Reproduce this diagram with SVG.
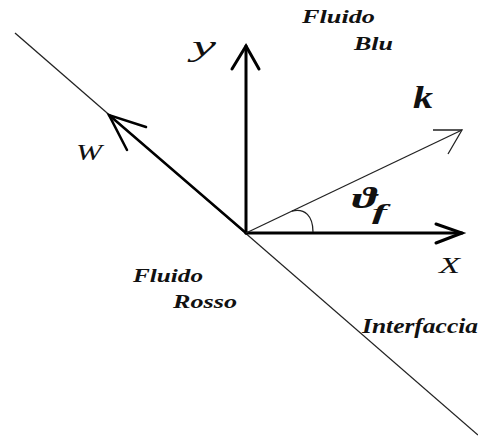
<svg xmlns="http://www.w3.org/2000/svg" width="478" height="439" viewBox="0 0 478 439">
<style>
.lbl{font-family:"Liberation Serif","DejaVu Serif",serif;font-style:italic;font-weight:bold;fill:#111}
.ax{font-family:"Liberation Serif","DejaVu Serif",serif;font-style:italic;fill:#111}
.thick{stroke:#000;stroke-width:3;fill:none;stroke-linecap:round}
.mid{stroke:#000;stroke-width:2.5;fill:none;stroke-linecap:round}
.thin{stroke:#222;stroke-width:1.3;fill:none}
</style>
<rect width="478" height="439" fill="#fff"/>
<g id="interface">
<line x1="15" y1="33" x2="478" y2="435" class="thin"/>
<text class="lbl" x="362" y="333" font-size="20" textLength="116" lengthAdjust="spacingAndGlyphs">Interfaccia</text>
</g>
<g id="connectors">
<g id="axis-y">
<line x1="246" y1="233" x2="246" y2="46" class="thick"/>
<polyline points="232,69 246,46 259,69" class="thick"/>
</g>
<g id="axis-x">
<line x1="246" y1="233" x2="462" y2="233" class="thick"/>
<polyline points="436,224 462,233 436,243" class="thick"/>
</g>
<g id="vector-w">
<line x1="246" y1="233" x2="109" y2="115" class="mid"/>
<polyline points="146,127 109,115 127,150" class="mid"/>
</g>
<g id="vector-k">
<line x1="246" y1="233" x2="462" y2="130" class="thin" stroke-width="1.5"/>
<polyline points="433,130 462,130 448,154" class="thin" stroke-width="1.5"/>
</g>
<path id="angle-arc" d="M292,211 C305,208 313,216 313,232" class="thin"/>
</g>
<g id="labels">
<text class="ax" x="192" y="56" font-size="30" textLength="24" lengthAdjust="spacingAndGlyphs">y</text>
<text class="ax" x="439" y="273" font-size="23" textLength="21" lengthAdjust="spacingAndGlyphs">X</text>
<text class="ax" x="76" y="160" font-size="24" textLength="26" lengthAdjust="spacingAndGlyphs">W</text>
<text class="lbl" x="413" y="108" font-size="32" textLength="20" lengthAdjust="spacingAndGlyphs">k</text>
<text class="lbl" x="352" y="208" font-size="30" textLength="25" lengthAdjust="spacingAndGlyphs">ϑ</text>
<text class="lbl" x="372" y="219" font-size="21" textLength="15" lengthAdjust="spacingAndGlyphs">f</text>
<text class="lbl" x="302" y="23" font-size="19" textLength="73" lengthAdjust="spacingAndGlyphs">Fluido</text>
<text class="lbl" x="354" y="50" font-size="19" textLength="39" lengthAdjust="spacingAndGlyphs">Blu</text>
<text class="lbl" x="133" y="282" font-size="19" textLength="70" lengthAdjust="spacingAndGlyphs">Fluido</text>
<text class="lbl" x="173" y="308" font-size="19" textLength="64" lengthAdjust="spacingAndGlyphs">Rosso</text>
</g>
</svg>
